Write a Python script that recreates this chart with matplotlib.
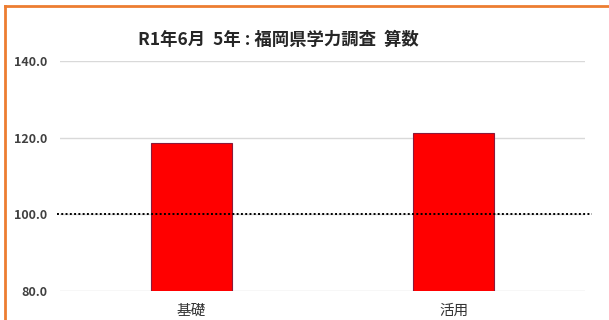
import matplotlib.pyplot as plt
from matplotlib.lines import Line2D

plt.rcParams['font.family'] = ['Noto Sans CJK JP', 'DejaVu Sans']

# 平均を100としたときの値
categories = ['基礎', '活用']
scores = [118.6, 121.3]
baseline = 100.0
yticks = [80.0, 100.0, 120.0, 140.0]
title = 'R1年6月  5年 : 福岡県学力調査  算数'

fig = plt.figure(figsize=(6.09, 3.2), dpi=100)
ax = fig.add_axes([60 / 609, 29 / 320, 525 / 609, 230 / 320])

x = range(len(categories))
ax.bar(x, scores, width=0.31, color='#ff0000', edgecolor='#8b1a3a',
       linewidth=0.8, zorder=3)

# 基準線(100)
ax.axhline(baseline, xmin=-0.005, xmax=1.013, color='black', linestyle=(0, (1, 1.2)),
           linewidth=1.4, zorder=4, clip_on=False)

ax.set_xlim(-0.5, 1.5)
ax.set_ylim(80, 140)
ax.set_yticks(yticks)
ax.set_yticklabels([f'{v:.1f}' for v in yticks], fontsize=9, fontweight='bold',
                   color='#404040')
ax.set_xticks(list(x))
ax.set_xticklabels(categories, fontsize=10.5, color='#333333')
ax.tick_params(axis='both', length=0)
ax.tick_params(axis='y', pad=9)
ax.tick_params(axis='x', pad=9)
ax.grid(axis='y', color='#d9d9d9', linewidth=1, zorder=0)
for s in ax.spines.values():
    s.set_visible(False)

fig.text(278 / 609, 1 - 40 / 320, title, ha='center', va='center',
         fontsize=12.5, fontweight='bold', color='#262626')

# オレンジの枠線
fig.add_artist(Line2D([5 / 609, 5 / 609], [0, 1 - 6 / 320], color='#ed7d31', linewidth=2))
fig.add_artist(Line2D([5 / 609, 1], [1 - 6 / 320, 1 - 6 / 320], color='#ed7d31', linewidth=2))

fig.savefig('out.png', dpi=100)
